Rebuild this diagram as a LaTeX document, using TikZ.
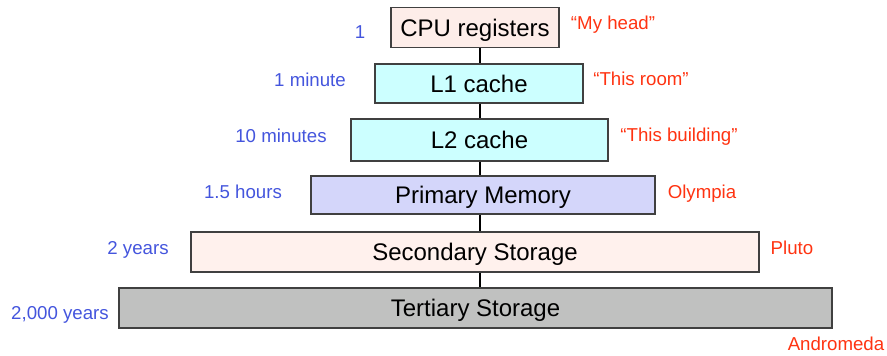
\documentclass[tikz,border=0pt]{standalone}
\usepackage{fontspec}
\setmainfont{Liberation Sans}
\usepackage{tikz}
\definecolor{regpink}{HTML}{FDEDE9}
\definecolor{cachecyan}{HTML}{CCFFFF}
\definecolor{memblue}{HTML}{D4D6FA}
\definecolor{diskpink}{HTML}{FFF1ED}
\definecolor{tapegray}{HTML}{C0C1C0}
\definecolor{timeblue}{HTML}{4455DD}
\definecolor{placered}{HTML}{FF3311}
\definecolor{edgegray}{HTML}{404040}

\begin{document}
\begin{tikzpicture}[
x = 0.75pt, y = -0.75pt,
levelbox/.style={rectangle, align = center, draw = edgegray, line width = 1.4pt,
font = \fontsize{18}{20}\selectfont, inner sep = 0pt, text height = 13pt, text depth = 0pt},
timelab/.style={text = timeblue, font = \fontsize{14}{16}\selectfont, text height = 10pt, text depth = 0pt},
placelab/.style={text = placered, font = \fontsize{14}{16}\selectfont, text height = 10pt, text depth = 0pt},
link/.style={draw = black, line width = 2.2pt}]

\useasboundingbox (0,0) rectangle (887,356);
\coordinate (axis) at (480,0);

% the hierarchy
\node[levelbox, fill = regpink, minimum width = 126pt, minimum height = 30pt] (CPU) at (475,27.5) {CPU registers};
\node[levelbox, fill = cachecyan, minimum width = 156pt, minimum height = 29pt] (L1) at (479,83.5) {L1 cache};
\node[levelbox, fill = cachecyan, minimum width = 193pt, minimum height = 31pt] (L2) at (479.5,140) {L2 cache};
\node[levelbox, fill = memblue, minimum width = 258pt, minimum height = 28.5pt] (PM) at (483,195) {Primary Memory};
\node[levelbox, fill = diskpink, minimum width = 426pt, minimum height = 30pt] (SS) at (475,252) {Secondary Storage};
\node[levelbox, fill = tapegray, minimum width = 535pt, minimum height = 30pt] (TS) at (475.5,308) {Tertiary Storage};

\draw[link] (CPU.south -| axis) -- (L1.north -| axis);
\draw[link] (L1.south -| axis) -- (L2.north -| axis);
\draw[link] (L2.south -| axis) -- (PM.north -| axis);
\draw[link] (PM.south -| axis) -- (SS.north -| axis);
\draw[link] (SS.south -| axis) -- (TS.north -| axis);

% access times
\node[timelab] (t1) at (360,32) {1};
\node[timelab] (t2) at (310,80) {1 minute};
\node[timelab] (t3) at (281,136) {10 minutes};
\node[timelab] (t4) at (243,192) {1.5 hours};
\node[timelab] (t5) at (138,248) {2 years};
\node[timelab] (t6) at (60,313) {2,000 years};

% distances
\node[placelab] (p1) at (613,23) {“My head”};
\node[placelab] (p2) at (641,79) {“This room”};
\node[placelab] (p3) at (679,135) {“This building”};
\node[placelab] (p4) at (702,192) {Olympia};
\node[placelab] (p5) at (792,248) {Pluto};
\node[placelab] (p6) at (836,344) {Andromeda};

\end{tikzpicture}
\end{document}
